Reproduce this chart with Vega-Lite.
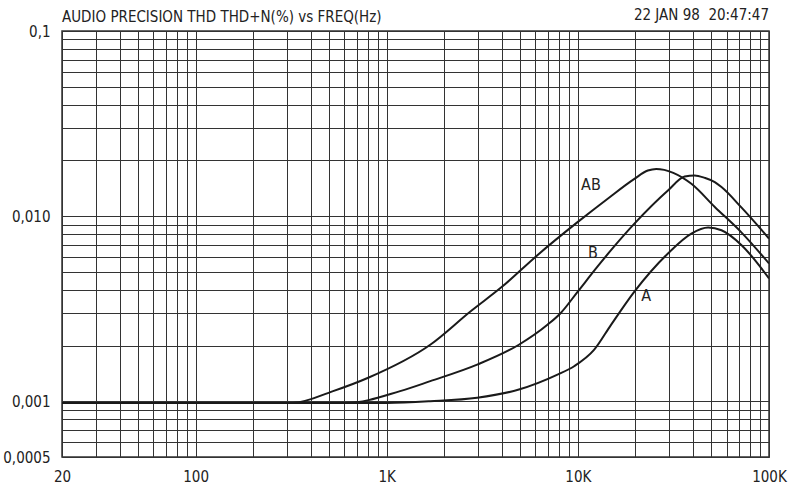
{
  "$schema": "https://vega.github.io/schema/vega-lite/v6.json",
  "width": 707,
  "height": 426,
  "autosize": {"type": "none"},
  "padding": {"left": 62, "top": 31, "right": 22, "bottom": 29},
  "background": "white",
  "config": {
    "view": {"stroke": "#333333", "strokeWidth": 1.5},
    "font": "DejaVu Sans Condensed, sans-serif"
  },
  "title": {
    "text": "AUDIO PRECISION THD THD+N(%) vs FREQ(Hz)",
    "anchor": "start",
    "frame": "group",
    "fontSize": 15,
    "fontWeight": "normal",
    "color": "#222222",
    "font": "DejaVu Sans Condensed, sans-serif",
    "baseline": "alphabetic",
    "offset": 0,
    "dy": 29
  },
  "datasets": {
    "curves": [
      {"curve": "AB", "freq": 20, "thd": 0.00098},
      {"curve": "AB", "freq": 322, "thd": 0.00098},
      {"curve": "AB", "freq": 524, "thd": 0.001135},
      {"curve": "AB", "freq": 800, "thd": 0.00134},
      {"curve": "AB", "freq": 1689, "thd": 0.00202},
      {"curve": "AB", "freq": 2740, "thd": 0.003055},
      {"curve": "AB", "freq": 4021, "thd": 0.004163},
      {"curve": "AB", "freq": 6142, "thd": 0.006155},
      {"curve": "AB", "freq": 9963, "thd": 0.00928},
      {"curve": "AB", "freq": 14325, "thd": 0.01242},
      {"curve": "AB", "freq": 19760, "thd": 0.0159},
      {"curve": "AB", "freq": 23230, "thd": 0.01763},
      {"curve": "AB", "freq": 25700, "thd": 0.0180},
      {"curve": "AB", "freq": 28310, "thd": 0.01778},
      {"curve": "AB", "freq": 31560, "thd": 0.01713},
      {"curve": "AB", "freq": 39260, "thd": 0.01495},
      {"curve": "AB", "freq": 52040, "thd": 0.01121},
      {"curve": "AB", "freq": 71880, "thd": 0.00815},
      {"curve": "AB", "freq": 100000, "thd": 0.00555},
      {"curve": "B", "freq": 20, "thd": 0.00098},
      {"curve": "B", "freq": 616, "thd": 0.00098},
      {"curve": "B", "freq": 1175, "thd": 0.001135},
      {"curve": "B", "freq": 1689, "thd": 0.001284},
      {"curve": "B", "freq": 2972, "thd": 0.001577},
      {"curve": "B", "freq": 4914, "thd": 0.00202},
      {"curve": "B", "freq": 6930, "thd": 0.002588},
      {"curve": "B", "freq": 8140, "thd": 0.0030},
      {"curve": "B", "freq": 9963, "thd": 0.0039},
      {"curve": "B", "freq": 12690, "thd": 0.00535},
      {"curve": "B", "freq": 14910, "thd": 0.00655},
      {"curve": "B", "freq": 19760, "thd": 0.00911},
      {"curve": "B", "freq": 29600, "thd": 0.01376},
      {"curve": "B", "freq": 36200, "thd": 0.01637},
      {"curve": "B", "freq": 40850, "thd": 0.0166},
      {"curve": "B", "freq": 46100, "thd": 0.0161},
      {"curve": "B", "freq": 52040, "thd": 0.01527},
      {"curve": "B", "freq": 56410, "thd": 0.01435},
      {"curve": "B", "freq": 71880, "thd": 0.01111},
      {"curve": "B", "freq": 100000, "thd": 0.00757},
      {"curve": "A", "freq": 20, "thd": 0.00098},
      {"curve": "A", "freq": 1000, "thd": 0.00098},
      {"curve": "A", "freq": 1689, "thd": 0.001},
      {"curve": "A", "freq": 2972, "thd": 0.001044},
      {"curve": "A", "freq": 4914, "thd": 0.001157},
      {"curve": "A", "freq": 7823, "thd": 0.001393},
      {"curve": "A", "freq": 9563, "thd": 0.001546},
      {"curve": "A", "freq": 12180, "thd": 0.0019},
      {"curve": "A", "freq": 14910, "thd": 0.002588},
      {"curve": "A", "freq": 19760, "thd": 0.003913},
      {"curve": "A", "freq": 29600, "thd": 0.00629},
      {"curve": "A", "freq": 39260, "thd": 0.00805},
      {"curve": "A", "freq": 48050, "thd": 0.00868},
      {"curve": "A", "freq": 56410, "thd": 0.00839},
      {"curve": "A", "freq": 71880, "thd": 0.00697},
      {"curve": "A", "freq": 100000, "thd": 0.00461}
    ],
    "labels": [
      {"label": "AB", "freq": 11700, "thd": 0.01477},
      {"label": "B", "freq": 11990, "thd": 0.00636},
      {"label": "A", "freq": 22770, "thd": 0.00369}
    ],
    "stamp": [
      {"text": "22 JAN 98\u00a0\u00a020:47:47", "freq": 100000, "thd": 0.1}
    ]
  },
  "encoding": {
    "x": {
      "field": "freq",
      "type": "quantitative",
      "scale": {"type": "log", "domain": [20, 100000], "nice": false, "zero": false},
      "axis": {
        "title": null,
        "values": [20, 30, 40, 50, 60, 70, 80, 90, 100, 200, 300, 400, 500, 600, 700, 800, 900, 1000, 2000, 3000, 4000, 5000, 6000, 7000, 8000, 9000, 10000, 20000, 30000, 40000, 50000, 60000, 70000, 80000, 90000, 100000],
        "labelExpr": "datum.value == 20 ? '20' : datum.value == 100 ? '100' : datum.value == 1000 ? '1K' : datum.value == 10000 ? '10K' : datum.value == 100000 ? '100K' : ''",
        "grid": true,
        "gridColor": "#333333",
        "gridOpacity": 1,
        "gridWidth": 1,
        "ticks": false,
        "domain": false,
        "labelOverlap": false,
        "labelFlush": false,
        "labelBound": false,
        "labelPadding": 12,
        "labelFontSize": 15,
        "labelColor": "#222222",
        "labelFont": "DejaVu Sans Condensed, sans-serif"
      }
    },
    "y": {
      "field": "thd",
      "type": "quantitative",
      "scale": {"type": "log", "domain": [0.0005, 0.1], "nice": false, "zero": false},
      "axis": {
        "title": null,
        "values": [0.0005, 0.0006, 0.0007, 0.0008, 0.0009, 0.001, 0.002, 0.003, 0.004, 0.005, 0.006, 0.007, 0.008, 0.009, 0.01, 0.02, 0.03, 0.04, 0.05, 0.06, 0.07, 0.08, 0.09, 0.1],
        "labelExpr": "datum.value == 0.1 ? '0,1' : datum.value == 0.01 ? '0,010' : datum.value == 0.001 ? '0,001' : datum.value == 0.0005 ? '0,0005' : ''",
        "grid": true,
        "gridColor": "#333333",
        "gridOpacity": 1,
        "gridWidth": 1,
        "ticks": false,
        "domain": false,
        "labelOverlap": false,
        "labelBound": false,
        "labelFlush": false,
        "labelPadding": 12,
        "labelFontSize": 15,
        "labelColor": "#222222",
        "labelFont": "DejaVu Sans Condensed, sans-serif"
      }
    }
  },
  "layer": [
    {
      "data": {"name": "curves"},
      "mark": {"type": "line", "interpolate": "monotone", "color": "#1a1a1a", "strokeWidth": 2, "clip": true},
      "encoding": {"detail": {"field": "curve", "type": "nominal"}}
    },
    {
      "data": {"name": "labels"},
      "mark": {"type": "text", "fontSize": 16, "color": "#222222", "align": "center", "baseline": "middle", "font": "DejaVu Sans Condensed, sans-serif"},
      "encoding": {"text": {"field": "label", "type": "nominal"}}
    },
    {
      "data": {"name": "stamp"},
      "mark": {"type": "text", "fontSize": 15, "color": "#222222", "align": "right", "baseline": "alphabetic", "dy": -11, "font": "DejaVu Sans Condensed, sans-serif"},
      "encoding": {"text": {"field": "text", "type": "nominal"}}
    }
  ]
}
